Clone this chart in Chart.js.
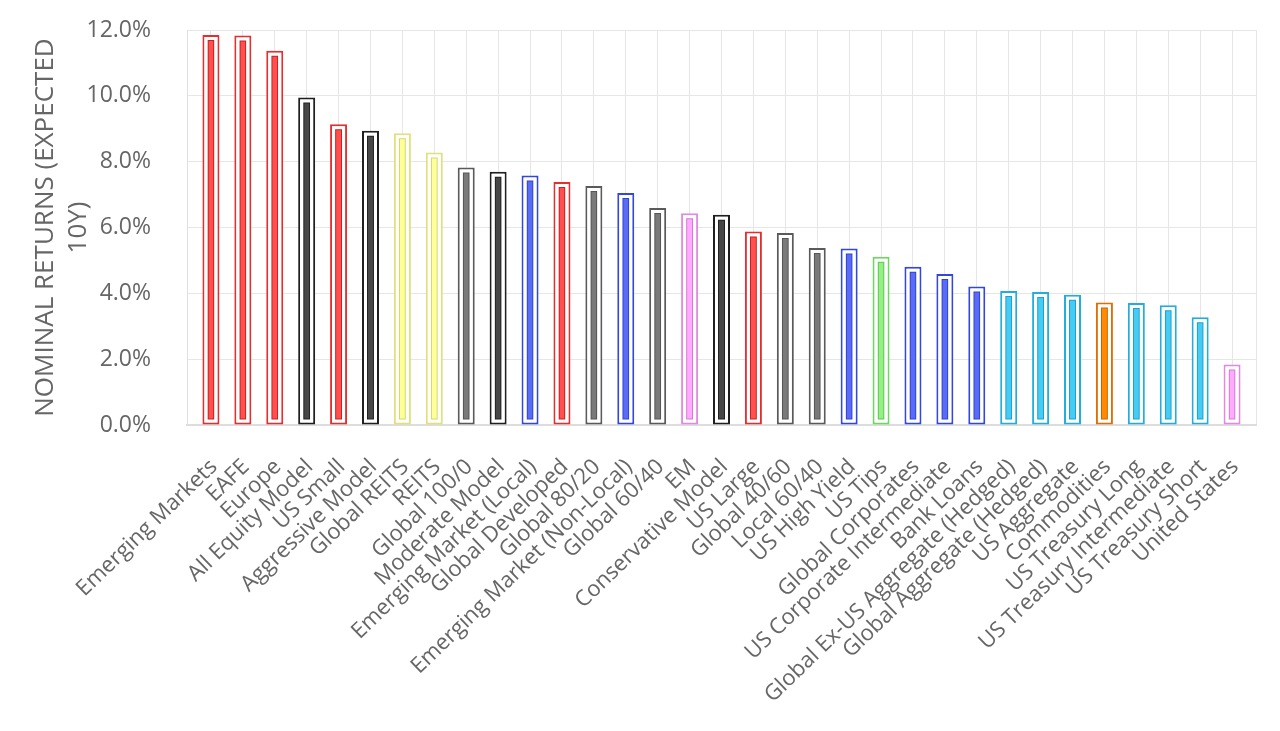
<!DOCTYPE html>
<html lang="en">
<head>
    <meta charset="UTF-8">
    <title>Nominal Returns</title>
    <script src="https://cdn.jsdelivr.net/npm/chart.js"></script>
</head>
<style>
    body {
        margin: 0;
        padding: 0;
        background-color: #ffffff;
    }
    .container {
        width: 1280px;
        height: 731px;
    }
</style>
<body>
    <div class="container">
        <canvas id="chart"></canvas>
    </div>

    <script>
        const labels = [
            'Emerging Markets', 'EAFE', 'Europe', 'All Equity Model', 'US Small',
            'Aggressive Model', 'Global REITS', 'REITS', 'Global 100/0', 'Moderate Model',
            'Emerging Market (Local)', 'Global Developed', 'Global 80/20',
            'Emerging Market (Non-Local)', 'Global 60/40', 'EM', 'Conservative Model',
            'US Large', 'Global 40/60', 'Local 60/40', 'US High Yield', 'US Tips',
            'Global Corporates', 'US Corporate Intermediate', 'Bank Loans',
            'Global Ex-US Aggregate (Hedged)', 'Global Aggregate (Hedged)', 'US Aggregate',
            'Commodities', 'US Treasury Long', 'US Treasury Intermediate',
            'US Treasury Short', 'United States'
        ];

        // expected 10y nominal return, %
        const returns = [
            11.85, 11.83, 11.37, 9.95, 9.14, 8.94, 8.86, 8.28, 7.82, 7.69,
            7.58, 7.38, 7.26, 7.05, 6.59, 6.43, 6.39, 5.88, 5.83, 5.38,
            5.36, 5.11, 4.81, 4.59, 4.21, 4.07, 4.04, 3.96, 3.72, 3.71,
            3.64, 3.27, 1.84
        ];

        // colour group of each bar
        const groups = [
            'red', 'red', 'red', 'black', 'red', 'black', 'yellow', 'yellow', 'gray', 'black',
            'blue', 'red', 'gray', 'blue', 'gray', 'pink', 'black', 'red', 'gray', 'gray',
            'blue', 'green', 'blue', 'blue', 'blue', 'cyan', 'cyan', 'cyan', 'orange', 'cyan',
            'cyan', 'cyan', 'pink'
        ];

        const yTicks = [0, 2, 4, 6, 8, 10, 12];

        const palette = {
            red:    { outer: '#e62e2e', edge: '#cc1f1f', fill: '#ff4f4f' },
            black:  { outer: '#1f1f1f', edge: '#222222', fill: '#474747' },
            gray:   { outer: '#5a5a5a', edge: '#555555', fill: '#7a7a7a' },
            yellow: { outer: '#e3e07a', edge: '#d8d66e', fill: '#ffff99' },
            blue:   { outer: '#3347e0', edge: '#2f43d6', fill: '#5a6cf5' },
            pink:   { outer: '#e28ae2', edge: '#d47ad4', fill: '#ffaaff' },
            green:  { outer: '#6cd860', edge: '#5bc94f', fill: '#96ef86' },
            cyan:   { outer: '#22addd', edge: '#1ea0d0', fill: '#44ccf5' },
            orange: { outer: '#e06e00', edge: '#d06000', fill: '#ff8c00' }
        };

        const points = returns.map((v, i) => ({ x: i, y: v }));
        const pick = key => groups.map(g => palette[g][key]);
        const clear = 'rgba(0,0,0,0)';

        const fontFamily = "'Open Sans', sans-serif";

        const data = {
            datasets: [
                {
                    // inner bar
                    data: points,
                    order: 1,
                    barThickness: 5,
                    backgroundColor: pick('fill'),
                    borderColor: clear,
                    borderWidth: { top: 6, bottom: 6, left: 0, right: 0 },
                    borderSkipped: false,
                    inflateAmount: 0
                },
                {
                    // dark edge of the inner bar
                    data: points,
                    order: 2,
                    barThickness: 7,
                    backgroundColor: pick('edge'),
                    borderColor: clear,
                    borderWidth: { top: 5, bottom: 5, left: 0, right: 0 },
                    borderSkipped: false,
                    inflateAmount: 0
                },
                {
                    // outlined outer bar
                    data: points,
                    order: 3,
                    barThickness: 17,
                    backgroundColor: '#ffffff',
                    borderColor: pick('outer'),
                    borderWidth: 2,
                    borderSkipped: false,
                    inflateAmount: 0
                }
            ]
        };

        const config = {
            type: 'bar',
            data: data,
            options: {
                animation: false,
                responsive: true,
                maintainAspectRatio: false,
                grouped: false,
                layout: {
                    padding: { top: 30, right: 24, bottom: 0, left: 0 }
                },
                plugins: {
                    legend: { display: false },
                    tooltip: { enabled: false }
                },
                scales: {
                    x: {
                        type: 'linear',
                        offset: false,
                        min: -0.75,
                        max: labels.length - 0.25,
                        afterBuildTicks: axis => {
                            axis.ticks = [-0.75, ...labels.map((_, i) => i), labels.length - 0.25]
                                .map(v => ({ value: v }));
                        },
                        afterFit: axis => {
                            axis.height = 306;
                            axis.paddingLeft = 0;
                            axis.paddingRight = 0;
                        },
                        grid: {
                            offset: false,
                            drawTicks: false,
                            color: '#e6e6e6'
                        },
                        border: {
                            color: '#dddddd',
                            width: 2
                        },
                        ticks: {
                            autoSkip: false,
                            minRotation: 44,
                            maxRotation: 44,
                            padding: 29,
                            labelOffset: 3,
                            color: '#666666',
                            font: { family: fontFamily, size: 22 },
                            callback: v => labels[v] ?? ''
                        }
                    },
                    y: {
                        min: 0,
                        max: 12,
                        afterBuildTicks: axis => {
                            axis.ticks = yTicks.map(v => ({ value: v }));
                        },
                        afterFit: axis => {
                            axis.width = 187;
                            axis.paddingTop = 0;
                            axis.paddingBottom = 0;
                        },
                        grid: {
                            drawTicks: false,
                            color: '#e6e6e6'
                        },
                        border: { color: '#e0e0e0' },
                        ticks: {
                            padding: 36,
                            color: '#666666',
                            font: { family: fontFamily, size: 23 },
                            callback: v => v.toFixed(1) + '%'
                        },
                        title: {
                            display: true,
                            text: ['NOMINAL RETURNS (EXPECTED', '10Y)'],
                            color: '#666666',
                            font: { family: fontFamily, size: 26, lineHeight: 1.27 },
                            padding: { top: 29, bottom: 0 }
                        }
                    }
                }
            }
        };

        const chart = new Chart(document.getElementById('chart').getContext('2d'), config);
    </script>
</body>
</html>
